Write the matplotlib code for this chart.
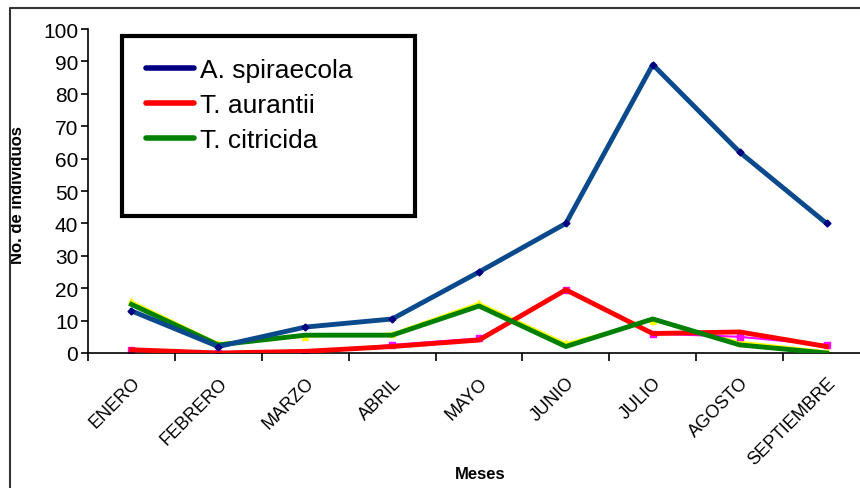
#!/usr/bin/env python3
# -*- coding: utf-8 -*-
"""Número de individuos de áfidos por mes (estilo gráfico de Excel)."""

import matplotlib
matplotlib.use("Agg")
import matplotlib.pyplot as plt
from matplotlib.patches import Rectangle
from matplotlib.lines import Line2D

# ----------------------------------------------------------------
# Datos
# ----------------------------------------------------------------
MESES = ["ENERO", "FEBRERO", "MARZO", "ABRIL", "MAYO", "JUNIO",
         "JULIO", "AGOSTO", "SEPTIEMBRE"]
A_SPIRAECOLA = [13, 2, 8, 10.5, 25, 40, 89, 62, 40]
T_AURANTII = [1, 0, 0.5, 2, 4, 19.5, 6, 6.5, 2]
T_CITRICIDA = [15, 2.5, 5.5, 5.5, 14.5, 2, 10.5, 2.5, 0]
# series de fondo (marcadores amarillos / magenta que asoman detrás)
FONDO_AMARILLO = [16, 3, 5, 6, 15.5, 3, 10, 3.5, 0.5]
FONDO_MAGENTA = [1, 0, 0, 2.5, 4.5, 19.5, 6, 5, 2.5]
Y_TICKS = list(range(0, 101, 10))

plt.rcParams['font.family'] = ['Liberation Sans', 'DejaVu Sans']

fig = plt.figure(figsize=(8.6, 4.89), dpi=100)
fig.patch.set_facecolor('white')

# ejes: salen un poco por la derecha, como en la imagen recortada
ax = fig.add_axes([88 / 860, 135 / 489, 782 / 860, 324 / 489])
x = list(range(len(MESES)))

# líneas de fondo (debajo)
ax.plot(x, FONDO_AMARILLO, color='yellow', lw=1.5, marker='^', ms=5,
        zorder=2)
ax.plot(x, FONDO_MAGENTA, color='magenta', lw=1.5, marker='s', ms=4.5,
        zorder=2)

ax.plot(x, A_SPIRAECOLA, color='#0a4a8c', lw=3.5, marker='D', ms=3.5,
        mfc='#000080', mec='#000080', zorder=4, label='A. spiraecola')
ax.plot(x, T_AURANTII, color='#ff0000', lw=3.5, zorder=3, label='T. aurantii')
ax.plot(x, T_CITRICIDA, color='#008000', lw=3.5, zorder=3,
        label='T. citricida')

ax.set_xlim(-0.5, len(MESES) - 0.5)
ax.set_ylim(0, 100)
ax.set_yticks(Y_TICKS)
ax.tick_params(axis='y', labelsize=15, length=5, width=1.2, pad=2)

# marcas en los límites de categoría, etiquetas en el centro
ax.set_xticks([i - 0.5 for i in range(len(MESES) + 1)])
ax.set_xticklabels([])
ax.tick_params(axis='x', which='major', length=6, width=1.2)
ax.set_xticks(x, minor=True)
ax.set_xticklabels(MESES, minor=True, rotation=45, ha='right',
                   rotation_mode='anchor', fontsize=13)
ax.tick_params(axis='x', which='minor', length=0, pad=15)

for s in ['top', 'right']:
    ax.spines[s].set_visible(False)
for s in ['left', 'bottom']:
    ax.spines[s].set_linewidth(1.2)
    ax.spines[s].set_color('black')

ax.set_ylabel("No. de individuos", fontsize=12, fontweight='bold')
ax.yaxis.set_label_coords(-63 / 782, 0.49)
fig.text(480 / 860, 14 / 489, "Meses", fontsize=12, fontweight='bold',
         ha='center', va='center')

# cuadro de leyenda
fig.patches.append(Rectangle((122 / 860, 272 / 489), 293 / 860, 180 / 489,
                             transform=fig.transFigure, fill=False,
                             edgecolor='black', lw=3, zorder=5))
handles = [Line2D([], [], color='#000080', lw=4, solid_capstyle='round'),
           Line2D([], [], color='#ff0000', lw=4, solid_capstyle='round'),
           Line2D([], [], color='#008000', lw=4, solid_capstyle='round')]
fig.legend(handles, ['A. spiraecola', 'T. aurantii', 'T. citricida'],
           loc='upper left', bbox_to_anchor=(146 / 860, 430 / 489),
           frameon=False, fontsize=19, handlelength=1.8, handletextpad=0.25,
           labelspacing=0.42, borderpad=0, borderaxespad=0)

# marco exterior del gráfico
fig.lines.append(Line2D([10 / 860, 10 / 860, 1.0], [0, 480 / 489, 480 / 489],
                        transform=fig.transFigure, color='#333333', lw=1.5))

fig.savefig("out.png", dpi=100)
